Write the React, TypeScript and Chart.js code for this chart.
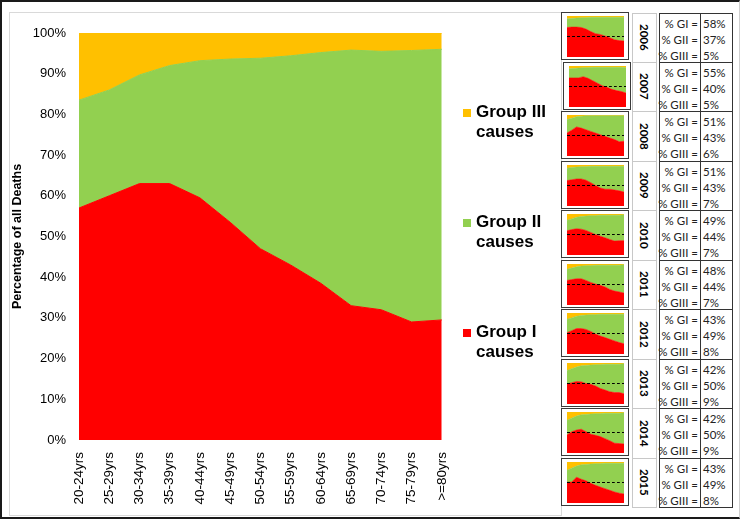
import React, { useEffect, useRef } from "react";
import { Chart, registerables } from "chart.js";

Chart.register(...registerables);

// main chart: share of deaths by cause group and age
const ageGroups = [
  "20-24yrs", "25-29yrs", "30-34yrs", "35-39yrs", "40-44yrs", "45-49yrs", "50-54yrs",
  "55-59yrs", "60-64yrs", "65-69yrs", "70-74yrs", "75-79yrs", ">=80yrs",
];
const groupI = [57, 60, 63, 63, 59.5, 53.5, 47, 43, 38.5, 33, 32, 29, 29.5];
const groupII = [26.5, 26, 26.7, 29, 33.7, 40.1, 46.8, 51.4, 56.7, 62.8, 63.5, 66.7, 66.5];
const groupIII = [16.5, 14, 10.3, 8, 6.8, 6.4, 6.2, 5.6, 4.8, 4.2, 4.5, 4.3, 4];

const seriesNames = ["Group I", "Group II", "Group III"];
const seriesColors = ["#FF0000", "#92D050", "#FFC000"];

// per-year panels
const years = ["2006", "2007", "2008", "2009", "2010", "2011", "2012", "2013", "2014", "2015"];
const yearGI = [58, 55, 51, 51, 49, 48, 43, 42, 42, 43];
const yearGII = [37, 40, 43, 43, 44, 44, 49, 50, 50, 49];
const yearGIII = [5, 5, 6, 7, 7, 7, 8, 9, 9, 8];

const thumbGroupI = [
  [72, 73, 73, 72, 68, 62, 57, 55, 51, 47, 42, 40, 39],
  [71, 71, 71, 74, 70, 64, 58, 52, 48, 43, 40, 38, 34],
  [56, 63, 71, 68, 64, 60, 56, 52, 48, 44, 40, 35, 36],
  [62, 64, 66, 66, 63, 57, 50, 44, 41, 41, 39, 37, 34],
  [59, 62, 64, 63, 60, 55, 50, 46, 42, 38, 34, 35, 35],
  [60, 62, 64, 64, 60, 55, 51, 48, 44, 38, 34, 32, 29],
  [52, 57, 62, 62, 60, 55, 49, 44, 40, 36, 32, 28, 25],
  [49, 52, 55, 54, 50, 48, 44, 38, 34, 30, 28, 28, 25],
  [44, 52, 56, 58, 52, 46, 43, 40, 35, 30, 24, 23, 22],
  [51, 51, 63, 58, 54, 48, 43, 39, 35, 31, 27, 24, 22],
];
const thumbGroupIII = [
  [7, 6, 5, 4, 4, 3, 3, 3, 3, 3, 3, 3, 3],
  [7, 6, 5, 4, 4, 3, 3, 3, 3, 3, 3, 3, 4],
  [11, 8, 4, 3, 2, 2, 2, 2, 2, 2, 2, 2, 2],
  [8, 6, 5, 4, 4, 3, 3, 3, 3, 3, 3, 3, 3],
  [15, 12, 8, 6, 5, 4, 4, 3, 3, 3, 3, 3, 2],
  [13, 10, 7, 5, 4, 4, 3, 3, 3, 3, 3, 3, 2],
  [15, 12, 8, 6, 5, 4, 4, 3, 3, 3, 3, 3, 3],
  [18, 14, 10, 7, 6, 5, 4, 4, 3, 3, 3, 3, 2],
  [20, 15, 10, 7, 6, 5, 4, 4, 3, 3, 3, 3, 2],
  [20, 15, 10, 7, 6, 5, 4, 4, 3, 3, 3, 3, 3],
];
const referenceLevel = 50;

const FONT = "'Liberation Sans', Arial, sans-serif";
const ROW_H = 49.5;

const MainChart: React.FC = () => {
  const chartRef = useRef<HTMLCanvasElement>(null);
  const chartInstance = useRef<Chart | null>(null);

  useEffect(() => {
    if (!chartRef.current) return;
    const series = [groupI, groupII, groupIII];
    chartInstance.current = new Chart(chartRef.current, {
      type: "line",
      data: {
        labels: ageGroups,
        datasets: series.map((d, i) => ({
          label: seriesNames[i] + " causes",
          data: d,
          backgroundColor: seriesColors[i],
          borderColor: seriesColors[i],
          borderWidth: 1,
          fill: i === 0 ? "origin" : "-1",
          pointRadius: 0,
          tension: 0,
        })),
      },
      options: {
        responsive: true,
        maintainAspectRatio: false,
        animation: false,
        layout: { padding: { top: 33, right: 11, left: 0, bottom: 0 } },
        plugins: { legend: { display: false }, tooltip: { enabled: false } },
        scales: {
          x: {
            offset: false,
            grid: { display: false, drawTicks: false },
            border: { display: false },
            ticks: {
              autoSkip: false,
              maxRotation: 90,
              minRotation: 90,
              padding: 12,
              color: "#000",
              font: { family: FONT, size: 13.5 },
            },
            afterFit: (scale) => {
              scale.height = 79;
            },
          },
          y: {
            stacked: true,
            min: 0,
            max: 100,
            grid: { display: false, drawTicks: false },
            border: { display: false },
            ticks: {
              stepSize: 10,
              padding: 13,
              color: "#000",
              font: { family: FONT, size: 13 },
              callback: (v) => v + "%",
            },
            title: {
              display: true,
              text: "Percentage of all Deaths",
              color: "#000",
              font: { family: FONT, size: 12.5, weight: "bold" },
              padding: { top: 10, bottom: 0 },
            },
            afterFit: (scale) => {
              scale.width = 79;
            },
          },
        },
      },
    });
    return () => {
      if (chartInstance.current) chartInstance.current.destroy();
    };
  }, []);

  return (
    <div style={{ position: "absolute", left: 0, top: 0, width: 470, height: 519 }}>
      <canvas ref={chartRef}></canvas>
    </div>
  );
};

const Thumb: React.FC<{ index: number }> = ({ index }) => {
  const chartRef = useRef<HTMLCanvasElement>(null);
  const chartInstance = useRef<Chart | null>(null);

  useEffect(() => {
    if (!chartRef.current) return;
    const gi = thumbGroupI[index];
    const giii = thumbGroupIII[index];
    const gii = gi.map((v, k) => 100 - v - giii[k]);
    const series = [gi, gii, giii];
    chartInstance.current = new Chart(chartRef.current, {
      type: "line",
      data: {
        labels: ageGroups,
        datasets: [
          ...series.map((d, i) => ({
            data: d,
            backgroundColor: seriesColors[i],
            borderColor: seriesColors[i],
            borderWidth: 0.5,
            fill: i === 0 ? "origin" : "-1",
            pointRadius: 0,
            tension: 0,
            order: 1,
          })),
          {
            // dashed reference line, drawn on top of the areas
            data: ageGroups.map(() => referenceLevel),
            borderColor: "#000",
            borderWidth: 1,
            borderDash: [3, 2],
            fill: false,
            pointRadius: 0,
            stack: "ref",
            order: 0,
          },
        ],
      },
      options: {
        responsive: true,
        maintainAspectRatio: false,
        animation: false,
        layout: { padding: { top: 3, right: 4, left: 5, bottom: 2 } },
        plugins: { legend: { display: false }, tooltip: { enabled: false } },
        scales: {
          x: { display: false, offset: false },
          y: { display: false, stacked: true, min: 0, max: 100 },
        },
      },
    });
    return () => {
      if (chartInstance.current) chartInstance.current.destroy();
    };
  }, [index]);

  return (
    <div
      style={{
        position: "absolute",
        left: index === 1 ? 563 : 561,
        top: 12 + index * ROW_H,
        width: 68,
        height: 48,
        boxSizing: "border-box",
        border: "1.5px solid #3a3a3a",
        background: "#fff",
      }}
    >
      <canvas ref={chartRef}></canvas>
    </div>
  );
};

const legendTops = [102, 212, 322];

const App: React.FC = () => {
  return (
    <div
      style={{
        position: "absolute",
        left: 0,
        top: 0,
        width: 740,
        height: 519,
        overflow: "hidden",
        background: "#fff",
        fontFamily: FONT,
      }}
    >
      <div
        style={{
          position: "absolute",
          left: 9,
          top: 12,
          width: 551,
          height: 502,
          border: "1px solid #d9d9d9",
        }}
      />
      <MainChart />

      {[2, 1, 0].map((s, k) => (
        <div
          key={s}
          style={{ position: "absolute", left: 463, top: legendTops[k], width: 95 }}
        >
          <div
            style={{
              position: "absolute",
              left: 0,
              top: 7,
              width: 8,
              height: 8,
              background: seriesColors[s],
            }}
          />
          <div
            style={{
              position: "absolute",
              left: 13,
              top: 0,
              fontWeight: "bold",
              fontSize: 17,
              lineHeight: "19.5px",
              color: "#000",
              whiteSpace: "nowrap",
            }}
          >
            {seriesNames[s]}
            <br />
            causes
          </div>
        </div>
      ))}

      {years.map((y, i) => (
        <Thumb key={y} index={i} />
      ))}

      {years.map((y, i) => (
        <div
          key={"y" + y}
          style={{
            position: "absolute",
            left: 632,
            top: 13 + i * ROW_H,
            width: 25,
            height: ROW_H,
            boxSizing: "border-box",
            border: "1px solid #c8c8c8",
            borderTop: i === 0 ? "1px solid #c8c8c8" : "none",
            display: "flex",
            alignItems: "center",
            justifyContent: "center",
          }}
        >
          <span
            style={{
              writingMode: "vertical-rl",
              fontWeight: "bold",
              fontSize: 11.5,
              fontFamily: "Lato, " + FONT,
              color: "#000",
            }}
          >
            {y}
          </span>
        </div>
      ))}

      {years.map((y, i) => {
        const labels = ["% GI =", "% GII =", "% GIII ="];
        const vals = [yearGI[i], yearGII[i], yearGIII[i]];
        return (
          <div
            key={"t" + y}
            style={{
              position: "absolute",
              left: 659,
              top: 13 + i * ROW_H,
              width: 74,
              height: ROW_H,
              boxSizing: "border-box",
              border: "1.5px solid #333",
              borderTop: i === 0 ? "1.5px solid #333" : "none",
              fontFamily: "Lato, " + FONT,
              fontSize: 11.5,
              color: "#222",
            }}
          >
            <div
              style={{
                position: "absolute",
                left: 40,
                top: 0,
                bottom: 0,
                borderLeft: "1.5px solid #333",
              }}
            />
            {labels.map((l, k) => (
              <React.Fragment key={l}>
                <div
                  style={{
                    position: "absolute",
                    right: 34,
                    top: 2 + k * 16,
                    lineHeight: "16px",
                    whiteSpace: "nowrap",
                  }}
                >
                  {l}
                </div>
                <div
                  style={{
                    position: "absolute",
                    left: 43,
                    top: 2 + k * 16,
                    lineHeight: "16px",
                  }}
                >
                  {vals[k]}%
                </div>
              </React.Fragment>
            ))}
          </div>
        );
      })}

      <div
        style={{
          position: "absolute",
          left: 0,
          top: 0,
          width: 740,
          height: 519,
          boxSizing: "border-box",
          borderTop: "2px solid #1a1a1a",
          borderLeft: "2px solid #1a1a1a",
          borderBottom: "2px solid #1a1a1a",
          borderRight: "1px solid #cfcfcf",
          pointerEvents: "none",
        }}
      />
    </div>
  );
};

export default App;
